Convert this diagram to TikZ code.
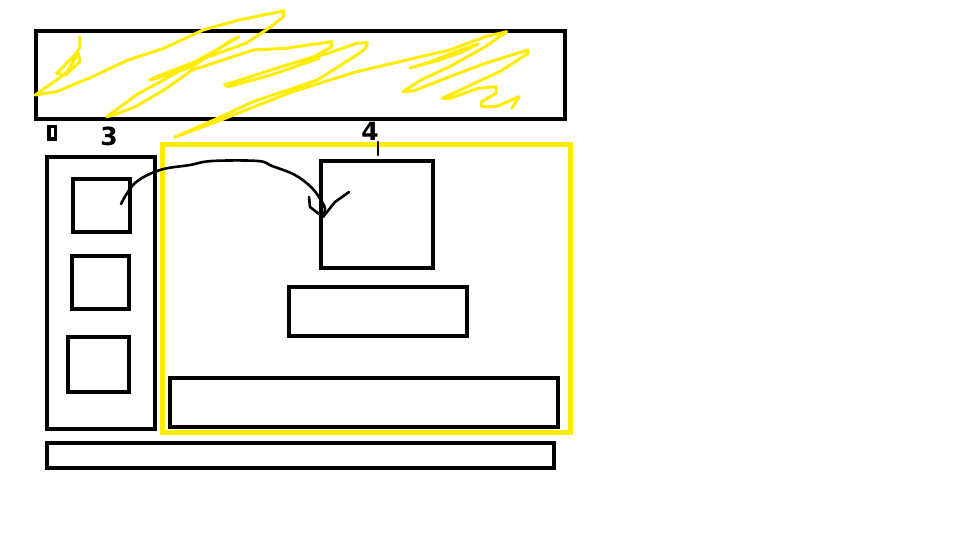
\documentclass[tikz,border=0pt]{standalone}
\usepackage{fontspec}
\setmainfont{DejaVu Sans}
\begin{document}
\begin{tikzpicture}[x=1pt,y=-1pt,
  box/.style={draw=black,line width=4.5pt},
  hl/.style={draw=yellow!95!orange,line width=5pt},
  scrib/.style={draw=yellow!95!orange,line width=3pt,line join=round,line cap=round},
  pen/.style={draw=black,line width=2.6pt,line join=round,line cap=round},
  lbl/.style={font=\fontsize{25}{25}\selectfont\bfseries,inner sep=0pt}]
\useasboundingbox (0,0) rectangle (960,540);
\fill[white] (0,0) rectangle (960,540);
% header
\draw[box] (36,31) rectangle (565,119);
\node[draw=black,inner sep=0pt,minimum width=6.5pt,minimum height=12.5pt,line width=3.5pt] (l1) at (52,133) {};
\node[lbl] (l3) at (109,136) {3};
\node[lbl] (l4) at (370,131) {4};
% left column
\draw[box] (47,157) rectangle (155,429);
\draw[box] (73,179) rectangle (130,232);
\draw[box] (72,256) rectangle (129,309);
\draw[box] (68,337) rectangle (129,392);
% main area
\draw[hl] (162,145) rectangle (570,432);
\draw[box] (321,161) rectangle (433,268);
\draw[box] (289,287) rectangle (467,336);
\draw[box] (170,378) rectangle (558,427);
% footer
\draw[box] (47,443) rectangle (554,468);
% leader under 4
\coordinate (l4a) at (378,142);
\coordinate (l4b) at (378,155);
\draw[pen] (l4a) -- (l4b);
% arrow
\coordinate (as) at (121,204);
\coordinate (ae) at (323,217);
\draw[pen] plot[smooth,tension=0.6] coordinates {(as) (135,183) (160,170) (190,165) (212,161) (258,161) (272,166) (295,175) (312,188) (322,202) (325,209) (ae)};
\draw[pen] (309,197) -- (310,207) -- (ae) -- (335,202) -- (349,192);
% scribble
\draw[scrib] plot coordinates {(79.9,36.7) (79.9,46.7) (76.4,53.3) (56.7,73.3) (65.6,75) (79.9,61.7) (78.1,53.3) (67.4,71.7) (56.7,80) (35.3,95) (56.7,91.7) (92.4,76.7) (128.1,60) (163.9,48.3) (203.1,30) (238.9,20) (279.9,11.7) (283.5,10.7) (283.5,16.7) (271,26.7) (246,43.3) (199.6,60) (156.7,76.7) (149.6,80) (156.7,78.3) (192.4,66.7) (231.7,40) (238.9,36.7) (228.1,43.3) (192.4,63.3) (163.9,80) (138.9,93.3) (106.7,116.7) (113.9,115) (135.3,106.7) (163.9,90) (192.4,70) (253.1,50) (285.3,48.3) (331.7,41.7) (331.7,46.7) (313.9,56.7) (271,70) (224.6,85) (228.1,86.7) (271,75) (319.2,58.3) (299.6,61.7) (328.1,53.3) (356.7,43.3) (367.4,42.7) (365.6,48.3) (356.7,55) (317.4,80) (253.1,101.7) (213.9,120) (174.6,137.3) (221,120) (292.4,91.7) (356.7,71.7) (406.7,60) (449.6,50) (485.3,36.7) (506.7,31.7) (485.3,46.7) (449.6,66.7) (421,80) (403.1,91.7) (413.9,90.7) (449.6,76.7) (485.3,63.3) (528.1,50) (528.1,53.3) (499.6,71.7) (474.6,83.3) (442.4,98.3) (449.6,98.3) (478.1,88.3) (496,86.7) (496,93.3) (481.7,101.7) (481.7,106.7) (496,106.7) (519.2,96.7) (512,108.3)};
\draw[scrib] plot coordinates {(410,68) (430,62) (455,52) (478,44) (462,52) (440,60) (410,68)};
\end{tikzpicture}
\end{document}
